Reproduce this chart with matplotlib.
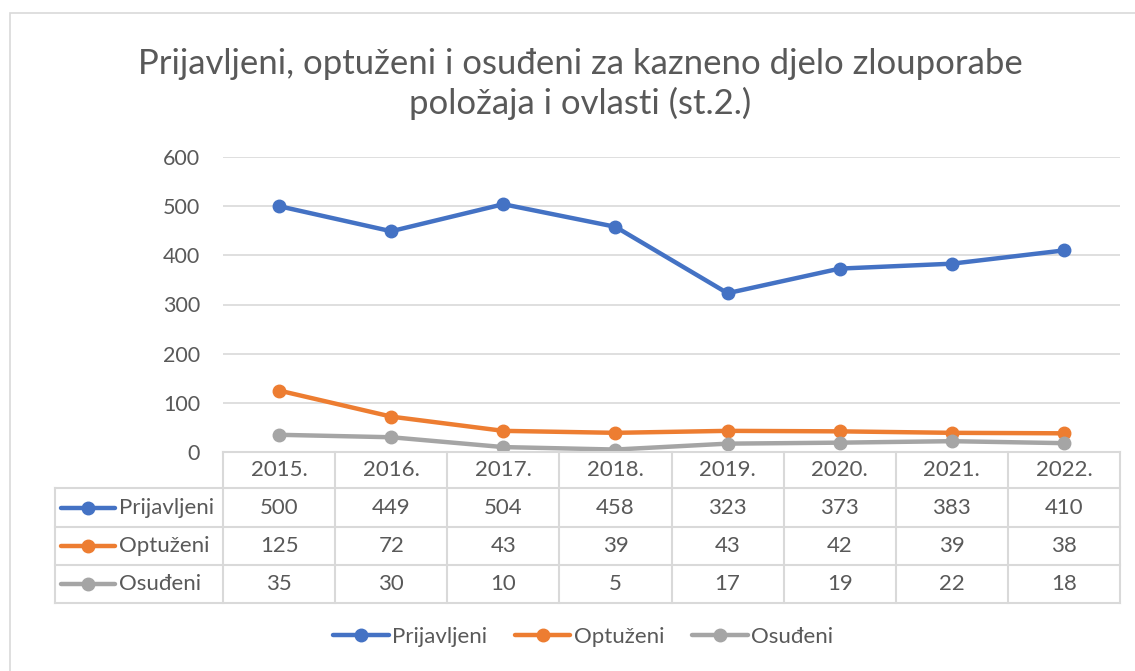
import matplotlib
matplotlib.use("Agg")
import matplotlib.pyplot as plt
from matplotlib.lines import Line2D
from matplotlib.patches import Rectangle

years = ["2015.", "2016.", "2017.", "2018.", "2019.", "2020.", "2021.", "2022."]
prijavljeni = [500, 449, 504, 458, 323, 373, 383, 410]
optuzeni = [125, 72, 43, 39, 43, 42, 39, 38]
osudeni = [35, 30, 10, 5, 17, 19, 22, 18]
series_names = ["Prijavljeni", "Optuženi", "Osuđeni"]
series = [prijavljeni, optuzeni, osudeni]
colors = ["#4472C4", "#ED7D31", "#A5A5A5"]
title = "Prijavljeni, optuženi i osuđeni za kazneno djelo zlouporabe\npoložaja i ovlasti (st.2.)"

plt.rcParams['font.family'] = ['Lato', 'DejaVu Sans']
TXT = "#595959"
GRID = "#D9D9D9"
FS = 15.5
FS_TAB = 16
FS_LEG = 16

W, H = 1135, 671
fig = plt.figure(figsize=(W / 100, H / 100), dpi=100)

def fx(px):
    return px / W

def fy(py):
    return 1 - py / H

# chart border
fig.patches.append(Rectangle((fx(10), fy(700)), fx(1200), fy(13) - fy(700),
                             transform=fig.transFigure, fill=False,
                             edgecolor=GRID, linewidth=1.2))

left, right, top, bottom = 223, 1120, 157, 452
ax = fig.add_axes([fx(left), fy(bottom), fx(right - left), fy(top) - fy(bottom)])
n = len(years)
x = list(range(n))
for vals, c, name in zip(series, colors, series_names):
    ax.plot(x, vals, color=c, lw=3.2, marker="o", ms=9, label=name,
            solid_capstyle="round", zorder=3)
ax.set_xlim(-0.5, n - 0.5)
ax.set_ylim(0, 600)
ax.set_yticks(range(0, 601, 100))
ax.yaxis.grid(True, color=GRID, lw=1.2)
ax.set_axisbelow(True)
for s in ax.spines.values():
    s.set_visible(False)
ax.set_xticks([])
ax.tick_params(axis="y", length=0, labelsize=FS, labelcolor=TXT, pad=16.5)

fig.text(fx(580), fy(84), title, ha="center", va="center", fontsize=25,
         color=TXT, linespacing=1.25)

# data table
row_edges = [452, 488, 527, 565, 603]
cell_w = (right - left) / n
lc = dict(color=GRID, lw=1.5, transform=fig.transFigure, clip_on=False)
fig.add_artist(Line2D([fx(left), fx(right)], [fy(row_edges[0])] * 2, **lc))
for ye in row_edges[1:]:
    fig.add_artist(Line2D([fx(55), fx(right)], [fy(ye)] * 2, **lc))
for i in range(n + 1):
    xe = left + i * cell_w
    fig.add_artist(Line2D([fx(xe)] * 2, [fy(row_edges[0]), fy(row_edges[-1])], **lc))
fig.add_artist(Line2D([fx(55)] * 2, [fy(row_edges[1]), fy(row_edges[-1])], **lc))

for i, yr in enumerate(years):
    cx = left + (i + 0.5) * cell_w
    fig.text(fx(cx), fy((row_edges[0] + row_edges[1]) / 2), yr, ha="center",
             va="center", fontsize=FS_TAB, color=TXT)
for r, (vals, c, name) in enumerate(zip(series, colors, series_names)):
    cy = (row_edges[r + 1] + row_edges[r + 2]) / 2
    fig.add_artist(Line2D([fx(61), fx(115)], [fy(cy)] * 2, color=c, lw=3.2,
                          solid_capstyle="round", transform=fig.transFigure))
    fig.add_artist(Line2D([fx(88)], [fy(cy)], color=c, marker="o", ms=9,
                          transform=fig.transFigure))
    fig.text(fx(119), fy(cy), name, ha="left", va="center", fontsize=FS_TAB, color=TXT)
    for i, v in enumerate(vals):
        cx = left + (i + 0.5) * cell_w
        fig.text(fx(cx), fy(cy), str(v), ha="center", va="center",
                 fontsize=FS_TAB, color=TXT)

handles = [Line2D([], [], color=c, lw=3.2, marker="o", ms=9,
                  solid_capstyle="round") for c in colors]
fig.legend(handles, series_names, loc="center", bbox_to_anchor=(fx(583), fy(637)),
           ncol=3, frameon=False, fontsize=FS_LEG, labelcolor=TXT,
           handlelength=2.5, handletextpad=0.15, columnspacing=1.25)

fig.savefig("out.png", dpi=100)
